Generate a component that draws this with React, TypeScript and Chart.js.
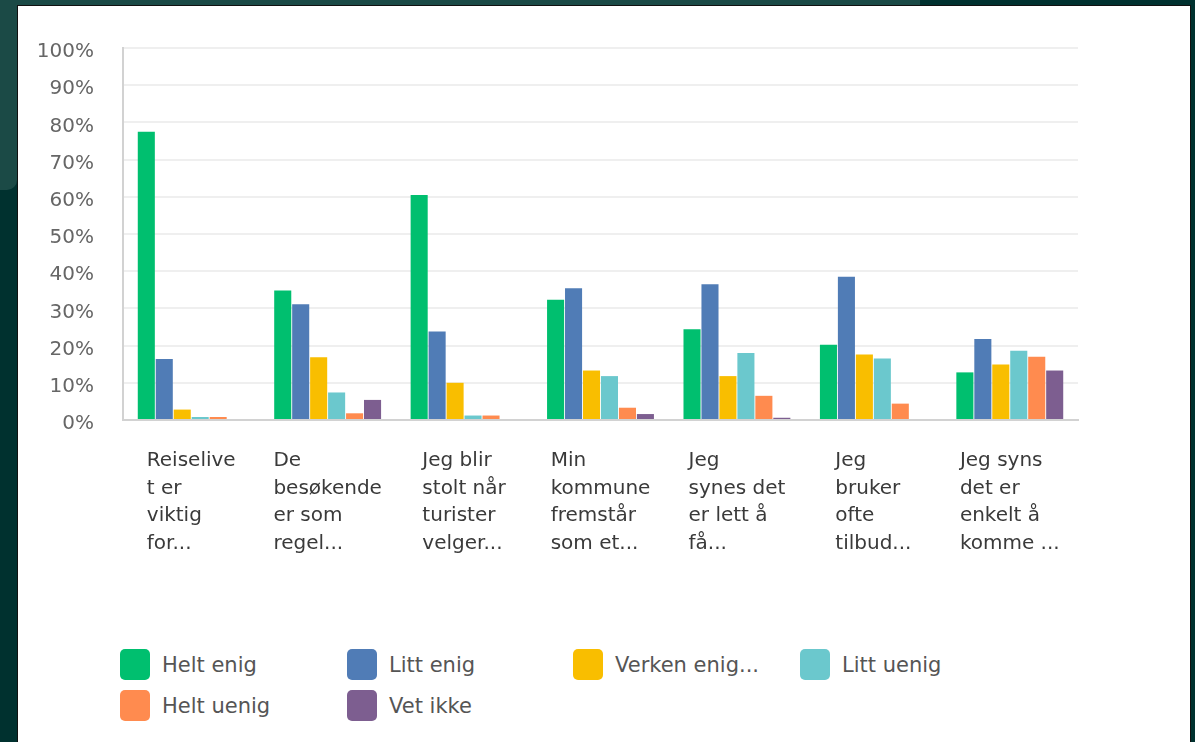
import React, { useEffect, useRef } from "react";
import { Chart, registerables } from "chart.js";

Chart.register(...registerables);

const categories: string[][] = [
  ["Reiselive", "t er", "viktig", "for..."],
  ["De", "besøkende", "er som", "regel..."],
  ["Jeg blir", "stolt når", "turister", "velger..."],
  ["Min", "kommune", "fremstår", "som et..."],
  ["Jeg", "synes det", "er lett å", "få..."],
  ["Jeg", "bruker", "ofte", "tilbud..."],
  ["Jeg syns", "det er", "enkelt å", "komme ..."],
];

const seriesNames = ["Helt enig", "Litt enig", "Verken enig...", "Litt uenig", "Helt uenig", "Vet ikke"];
const seriesColors = ["#00bf6f", "#507cb6", "#f9be00", "#6bc8cd", "#ff8b4f", "#7d5e90"];

const heltEnig = [77.5, 34.8, 60.5, 32.3, 24.4, 20.2, 12.8];
const littEnig = [16.4, 31.1, 23.8, 35.4, 36.5, 38.5, 21.8];
const verkenEnig = [2.8, 16.9, 10.0, 13.3, 11.8, 17.6, 14.9];
const littUenig = [0.8, 7.4, 1.2, 11.8, 18.0, 16.5, 18.6];
const heltUenig = [0.8, 1.8, 1.2, 3.3, 6.5, 4.4, 17.0];
const vetIkke = [0, 5.4, 0, 1.6, 0.6, 0, 13.3];

const yTicks = [0, 10, 20, 30, 40, 50, 60, 70, 80, 90, 100];

const seriesValues = [heltEnig, littEnig, verkenEnig, littUenig, heltUenig, vetIkke];

const FONT = '"DejaVu Sans", sans-serif';
const X_FONT_SIZE = 20;
const X_LINE_HEIGHT = 27.5;

// Draws each category label as a block centred on its tick, with left-aligned lines.
const blockLabelsPlugin = {
  id: "blockLabels",
  afterDraw(chart: any) {
    const xs = chart.scales.x;
    const ctx = chart.ctx;
    ctx.save();
    ctx.font = `${X_FONT_SIZE}px ${FONT}`;
    ctx.fillStyle = "#3a3a3a";
    ctx.textAlign = "left";
    ctx.textBaseline = "middle";
    categories.forEach((lines, i) => {
      const w = Math.max(...lines.map((l) => ctx.measureText(l).width));
      const cx = xs.getPixelForValue(i);
      const left = cx - w / 2;
      lines.forEach((line, k) => {
        ctx.fillText(line, left, chart.chartArea.bottom + 41 + k * X_LINE_HEIGHT);
      });
    });
    ctx.restore();
  },
};

export default function App() {
  const ref = useRef<HTMLCanvasElement>(null);

  useEffect(() => {
    const chart = new Chart(ref.current!, {
      type: "bar",
      data: {
        labels: categories,
        datasets: seriesNames.map((name, i) => ({
          label: name,
          data: seriesValues[i],
          backgroundColor: seriesColors[i],
          borderWidth: 0,
          barPercentage: 0.95,
          categoryPercentage: 0.79,
        })),
      },
      plugins: [blockLabelsPlugin],
      options: {
        animation: false,
        responsive: false,
        layout: { padding: { top: 48, left: 0, right: 117, bottom: 0 } },
        plugins: { legend: { display: false }, tooltip: { enabled: false } },
        scales: {
          x: {
            grid: { display: false, drawTicks: false },
            border: { display: true, color: "#d2d2d2", width: 2 },
            ticks: {
              autoSkip: false,
              maxRotation: 0,
              minRotation: 0,
              color: "rgba(0,0,0,0)",
              font: { family: FONT, size: X_FONT_SIZE },
            },
            afterFit: (scale: any) => {
              scale.height = 180;
            },
          },
          y: {
            min: 0,
            max: 100,
            grid: { color: "#efefef", lineWidth: 2, drawTicks: false },
            border: { display: true, color: "#d2d2d2", width: 2 },
            afterBuildTicks: (scale: any) => {
              scale.ticks = yTicks.map((v) => ({ value: v }));
            },
            ticks: {
              padding: 29,
              labelOffset: 4,
              color: "#666666",
              font: { family: FONT, size: 20 },
              callback: (v: any) => `${v}%`,
            },
            afterFit: (scale: any) => {
              scale.width = 123;
            },
          },
        },
      },
    });
    return () => chart.destroy();
  }, []);

  const legendCols = [120, 347, 573, 800];
  const legendRows = [649, 690];

  return (
    <div style={{ position: "fixed", left: 0, top: 0, width: 1195, height: 742, background: "#00312f", overflow: "hidden" }}>
      <div style={{ position: "absolute", left: 0, top: 0, width: 920, height: 6, background: "#1b4a46" }} />
      <div style={{ position: "absolute", left: 0, top: 0, width: 17, height: 190, background: "#1b4a46", borderBottomRightRadius: 10 }} />
      <div
        style={{
          position: "absolute",
          left: 17,
          top: 5,
          width: 1174,
          height: 740,
          background: "#ffffff",
          border: "1px solid #111",
          boxSizing: "border-box",
        }}
      />
      <canvas ref={ref} width={1195} height={600} style={{ position: "absolute", left: 0, top: 0 }} />
      {seriesNames.map((name, i) => (
        <div
          key={name}
          style={{
            position: "absolute",
            left: legendCols[i % 4],
            top: legendRows[Math.floor(i / 4)],
            display: "flex",
            alignItems: "center",
            height: 31,
            fontFamily: FONT,
            fontSize: 21,
            color: "#555555",
            whiteSpace: "nowrap",
          }}
        >
          <div style={{ width: 30, height: 31, borderRadius: 5, background: seriesColors[i], marginRight: 12 }} />
          <span>{name}</span>
        </div>
      ))}
    </div>
  );
}
